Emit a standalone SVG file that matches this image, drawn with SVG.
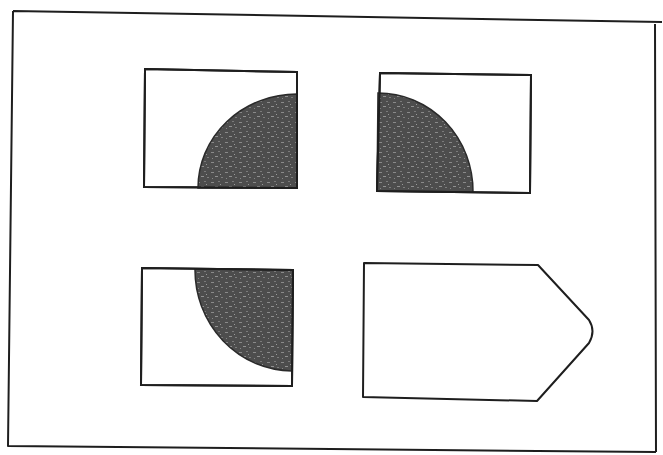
<svg xmlns="http://www.w3.org/2000/svg" width="663" height="455" viewBox="0 0 663 455">
<style>
.ln{fill:none;stroke:#1e1e1e;stroke-width:2;stroke-linejoin:round}
.box{fill:#fff;stroke:#1e1e1e;stroke-width:2}
.shade{fill:url(#speck);stroke:#2a2a2a;stroke-width:1.5}
</style>
<defs>
<pattern id="speck" width="14" height="10" patternUnits="userSpaceOnUse">
<rect width="14" height="10" fill="#4d4d4d"/>
<rect x="1" y="2" width="3" height="1" fill="#8a8a8a"/>
<rect x="8" y="1" width="2" height="1" fill="#7a7a7a"/>
<rect x="5" y="6" width="3" height="1" fill="#909090"/>
<rect x="11" y="7" width="2" height="1" fill="#7d7d7d"/>
<rect x="2" y="8" width="1" height="1" fill="#858585"/>
<rect x="10" y="4" width="1" height="1" fill="#999"/>
</pattern>
</defs>
<rect width="663" height="455" fill="#fff"/>
<g id="frame">
<path class="ln" d="M13,11 L662,22 M13,11 L8,446 L656,452 M655,24 L656,452"/>
</g>
<g id="tile-top-left">
<path class="box" d="M145,69 L297,72 L297,188 L144,187 Z"/>
<path class="shade" d="M297,94 A99,94 0 0 0 198,188 L297,188 Z"/>
<path class="ln" d="M145,69 L297,72 L297,188 L144,187 Z"/>
</g>
<g id="tile-top-right">
<path class="box" d="M380,73 L531,75 L530,193 L377,191 Z"/>
<path class="shade" d="M378,93 A95,98 0 0 1 473,192 L377,191 Z"/>
<path class="ln" d="M380,73 L531,75 L530,193 L377,191 Z"/>
</g>
<g id="tile-bottom-left">
<path class="box" d="M142,268 L293,270 L292,386 L141,385 Z"/>
<path class="shade" d="M195,269 A98,101 0 0 0 292,371 L293,270 Z"/>
<path class="ln" d="M142,268 L293,270 L292,386 L141,385 Z"/>
</g>
<g id="pentagon">
<path class="ln" d="M364,263 L538,265 L589,320 Q596,331 589,343 L537,401 L363,397 Z"/>
</g>
</svg>
